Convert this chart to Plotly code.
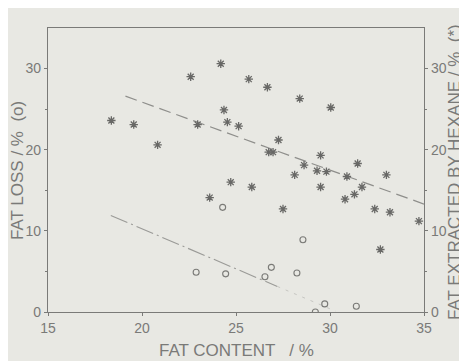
import plotly.graph_objects as go

# Fat extracted by hexane (*)
hex_x = [18.37, 19.56, 20.83, 22.59, 22.96, 24.19, 24.36, 24.54, 23.6, 24.72,
         25.14, 25.68, 25.84, 26.67, 26.74, 26.97, 27.26, 27.5, 28.12, 28.39,
         28.62, 29.31, 29.5, 29.5, 29.81, 30.04, 30.8, 30.9, 31.3, 31.47,
         31.7, 32.38, 32.68, 33.0, 33.19, 34.73]
hex_y = [23.6, 23.1, 20.6, 29.0, 23.1, 30.6, 24.9, 23.4, 14.1, 16.0,
         22.9, 28.7, 15.4, 27.7, 19.7, 19.7, 21.2, 12.7, 16.9, 26.3,
         18.1, 17.4, 19.3, 15.4, 17.3, 25.2, 13.9, 16.7, 14.5, 18.3,
         15.4, 12.7, 7.7, 16.9, 12.3, 11.2]

# Fat loss (o)
loss_x = [24.29, 22.88, 24.45, 26.54, 26.88, 28.24, 28.56, 29.22, 29.72, 31.4]
loss_y = [12.9, 4.9, 4.7, 4.35, 5.5, 4.8, 8.9, 0.0, 1.0, 0.7]

# Fitted lines (end points)
hex_fit_x = [19.12, 35.0]
hex_fit_y = [26.6, 13.3]
loss_fit_x = [18.34, 27.2]
loss_fit_y = [11.9, 3.15]
loss_fit_ext_x = [27.2, 30.3]
loss_fit_ext_y = [3.15, 0.1]

x_ticks = [15, 20, 25, 30, 35]
y_ticks = [0, 10, 20, 30]

x_title = "FAT CONTENT   / %"
y_title = "FAT LOSS / %  (o)"
y2_title = "FAT EXTRACTED BY HEXANE / %  (*)"

ink = "#7a7a78"
bg = "#e8e8e3"
font = "Liberation Sans"

fig = go.Figure()
fig.add_trace(go.Scatter(x=hex_fit_x, y=hex_fit_y, mode="lines",
                         line=dict(color="#8e8e8b", width=1.2, dash="12px,6px"),
                         yaxis="y2", showlegend=False, hoverinfo="skip"))
fig.add_trace(go.Scatter(x=loss_fit_x, y=loss_fit_y, mode="lines",
                         line=dict(color="#9a9a97", width=1.1, dash="18px,4px,2px,4px"),
                         showlegend=False, hoverinfo="skip"))
fig.add_trace(go.Scatter(x=loss_fit_ext_x, y=loss_fit_ext_y, mode="lines",
                         line=dict(color="#c6c6c2", width=1, dash="3px,6px"),
                         showlegend=False, hoverinfo="skip"))
fig.add_trace(go.Scatter(x=hex_x, y=hex_y, mode="markers", yaxis="y2",
                         marker=dict(symbol="asterisk-open", size=7, color="#686866",
                                     line=dict(color="#686866", width=1.3)),
                         showlegend=False))
fig.add_trace(go.Scatter(x=loss_x, y=loss_y, mode="markers",
                         marker=dict(symbol="circle-open", size=6, color="#7a7a77",
                                     line=dict(color="#7a7a77", width=1.1)),
                         showlegend=False))

axis_common = dict(showgrid=False, zeroline=False, linecolor=ink, linewidth=1.2,
                   ticks="outside", ticklen=3, tickcolor=ink, tickwidth=1,
                   tickfont=dict(family=font, size=14, color=ink))

# page body adds an 8px offset; figure sized so the plot box lands where the reference has it
fig.update_layout(
    width=459, height=353,
    margin=dict(l=40, r=43, t=20, b=49),
    paper_bgcolor=bg, plot_bgcolor=bg,
    xaxis=dict(range=[15, 35], tickvals=x_ticks, mirror=True, showline=True,
               **axis_common),
    yaxis=dict(range=[0, 35], tickvals=y_ticks, showline=True,
               minor=dict(tickvals=[5, 15, 25], ticklen=2, tickcolor=ink, ticks="outside"),
               **axis_common),
    yaxis2=dict(range=[0, 35], tickvals=y_ticks, overlaying="y", side="right",
                showline=True, anchor="x",
                minor=dict(tickvals=[5, 15, 25], ticklen=2, tickcolor=ink, ticks="outside"),
                **axis_common),
    annotations=[
        dict(text=x_title, xref="paper", yref="paper", x=0.5, y=0, yshift=-38,
             xanchor="center", yanchor="middle", showarrow=False,
             font=dict(family=font, size=17, color=ink)),
        dict(text=y_title, xref="paper", yref="paper", x=0, y=0.5, xshift=-31, yshift=-1,
             xanchor="center", yanchor="middle", textangle=-90, showarrow=False,
             font=dict(family=font, size=17, color=ink)),
        dict(text=y2_title, xref="paper", yref="paper", x=1, y=0.5, xshift=30, yshift=-2,
             xanchor="center", yanchor="middle", textangle=-90, showarrow=False,
             font=dict(family=font, size=17, color=ink)),
    ],
)

fig.write_html("out.html")
